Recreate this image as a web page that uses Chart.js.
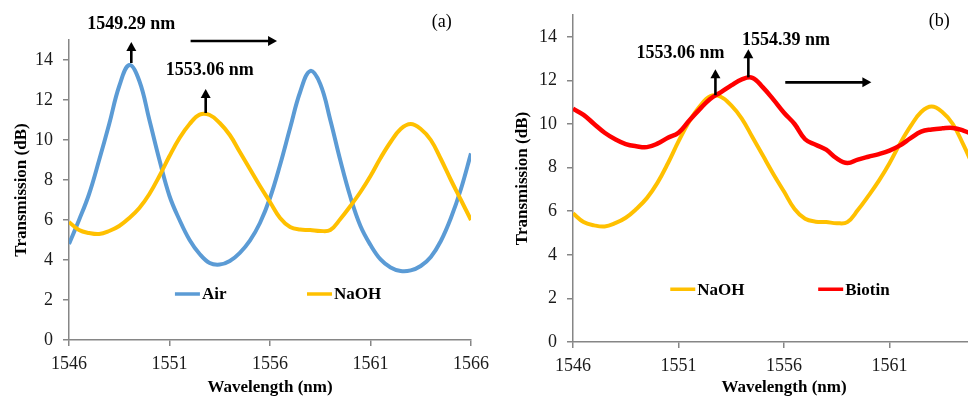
<!DOCTYPE html>
<html>
<head>
<meta charset="utf-8">
<script src="https://cdn.jsdelivr.net/npm/chart.js@4.4.0/dist/chart.umd.min.js"></script>
<style>
html,body{margin:0;padding:0;background:#fff;overflow:hidden}
#wrap{position:relative;width:968px;height:397px;overflow:hidden}
#chartA{position:absolute;left:0;top:0}
#chartB{position:absolute;left:484px;top:0}
</style>
</head>
<body>
<div id="wrap">
<canvas id="chartA" width="500" height="397"></canvas>
<canvas id="chartB" width="530" height="397"></canvas>
</div>
<script>
// wavelength grid, nm
const wavelength = [1546,1546.5,1547,1547.5,1548,1548.5,1549,1549.5,1550,1550.5,
  1551,1551.5,1552,1552.5,1553,1553.5,1554,1554.5,1555,1555.5,
  1556,1556.5,1557,1557.5,1558,1558.5,1559,1559.5,1560,1560.5,
  1561,1561.5,1562,1562.5,1563,1563.5,1564,1564.5,1565,1565.5,1566]

// transmission, dB
const air = [4.8,6.0,7.3,9.0,10.8,12.7,13.75,12.95,11.0,9.0,
  7.2,6.0,5.0,4.3,3.85,3.77,3.95,4.36,4.97,5.85,
  7.1,8.75,10.6,12.4,13.45,12.8,11.0,8.97,7.15,5.7,
  4.75,4.03,3.63,3.45,3.48,3.7,4.15,4.95,6.1,7.55,9.33]

const naoh = [5.9,5.5,5.35,5.3,5.45,5.7,6.1,6.6,7.3,8.2,
  9.2,10.1,10.8,11.27,11.25,10.85,10.25,9.4,8.55,7.7,
  6.9,6.1,5.65,5.52,5.5,5.45,5.5,6.05,6.7,7.4,
  8.2,9.1,9.9,10.55,10.8,10.55,10.0,9.05,8.0,7.0,6.0]

const biotin = [10.7,10.42,10.0,9.6,9.3,9.08,8.98,8.94,9.1,9.37,
  9.6,10.15,10.67,11.15,11.45,11.77,12.05,12.12,11.68,11.12,
  10.52,10.0,9.3,9.05,8.82,8.42,8.21,8.37,8.5,8.62,
  8.78,9.02,9.35,9.65,9.75,9.8,9.82,9.7,9.5]

const xTicks = [1546,1551,1556,1561,1566]
const yTicks = [0,2,4,6,8,10,12,14]

const BLUE = "#5B9BD5"
const GOLD = "#FFC000"
const RED = "#FF0000"
const FONT = '"Liberation Serif", "Times New Roman", serif'

Chart.defaults.font.family = FONT
Chart.defaults.color = "#1a1a1a"

function pts(vals) {
  const out = []
  for (let i = 0; i < vals.length; i++) out.push({x: wavelength[i], y: vals[i]})
  return out
}

function arrow(ctx, x1, y1, x2, y2) {
  const ang = Math.atan2(y2 - y1, x2 - x1)
  const hl = 9, hw = 5
  ctx.lineWidth = 2.6
  ctx.beginPath()
  ctx.moveTo(x1, y1)
  ctx.lineTo(x2 - Math.cos(ang) * (hl - 1), y2 - Math.sin(ang) * (hl - 1))
  ctx.stroke()
  ctx.beginPath()
  ctx.moveTo(x2, y2)
  ctx.lineTo(x2 - hl * Math.cos(ang) + hw * Math.sin(ang), y2 - hl * Math.sin(ang) - hw * Math.cos(ang))
  ctx.lineTo(x2 - hl * Math.cos(ang) - hw * Math.sin(ang), y2 - hl * Math.sin(ang) + hw * Math.cos(ang))
  ctx.closePath()
  ctx.fill()
}

// text labels, arrows and the in-plot legend, placed in data units
const marks = {
  id: "marks",
  afterDraw(chart, args, opts) {
    const ctx = chart.ctx
    const sx = chart.scales.x, sy = chart.scales.y
    ctx.save()
    ctx.fillStyle = "#000"
    ctx.strokeStyle = "#000"
    ctx.textBaseline = "middle"
    ctx.textAlign = "center"
    for (const t of opts.texts) {
      ctx.font = (t.bold ? "bold " : "") + "18px " + FONT
      ctx.fillText(t.text, sx.getPixelForValue(t.x), sy.getPixelForValue(t.y))
    }
    for (const a of opts.arrows) {
      arrow(ctx, sx.getPixelForValue(a[0]), sy.getPixelForValue(a[1]),
        sx.getPixelForValue(a[2]), sy.getPixelForValue(a[3]))
    }
    ctx.textAlign = "left"
    ctx.font = "bold 17px " + FONT
    chart.data.datasets.forEach((ds, i) => {
      const p = opts.legend[i]
      const px = sx.getPixelForValue(p[0]), py = sy.getPixelForValue(p[1])
      ctx.strokeStyle = ds.borderColor
      ctx.lineWidth = 3.5
      ctx.beginPath()
      ctx.moveTo(px, py)
      ctx.lineTo(px + 25, py)
      ctx.stroke()
      ctx.fillStyle = "#000"
      ctx.fillText(ds.label, px + 27, py + 1)
    })
    ctx.restore()
  }
}

function makeChart(id, datasets, lay, marksOpts) {
  return new Chart(document.getElementById(id), {
    type: "line",
    data: {datasets: datasets},
    options: {
      responsive: false,
      animation: false,
      layout: {padding: {left: 0, top: lay.top, right: lay.right, bottom: 0}},
      plugins: {legend: {display: false}, tooltip: {enabled: false}, marks: marksOpts},
      elements: {point: {radius: 0}, line: {tension: 0.4}},
      scales: {
        x: {
          type: "linear", min: 1546, max: 1566,
          afterBuildTicks: s => { s.ticks = xTicks.map(v => ({value: v})) },
          afterFit: s => { s.height = lay.xh; s.paddingLeft = 0; s.paddingRight = 0 },
          grid: {drawOnChartArea: false, drawTicks: true, tickLength: 6, color: "#868686", lineWidth: 1.5},
          border: {color: "#868686", width: 1.5},
          ticks: {font: {size: 18}, padding: 7, maxRotation: 0, autoSkip: false, color: "#1a1a1a", callback: v => String(v)},
          title: {display: true, text: "Wavelength (nm)", font: {size: 17, weight: "bold", lineHeight: 1}, padding: {top: 0, bottom: 1}, color: "#000"}
        },
        y: {
          min: 0, max: 15,
          afterBuildTicks: s => { s.ticks = yTicks.map(v => ({value: v})) },
          afterFit: s => { s.width = lay.yw; s.paddingTop = 0; s.paddingBottom = 0 },
          grid: {drawOnChartArea: false, drawTicks: true, tickLength: 6, color: "#868686", lineWidth: 1.5},
          border: {color: "#868686", width: 1.5},
          ticks: {font: {size: 18}, padding: 10, color: "#1a1a1a", callback: v => String(v)},
          title: {display: true, text: "Transmission (dB)", font: {size: 17, weight: "bold", lineHeight: 1}, padding: {top: lay.tpad, bottom: 0}, color: "#000"}
        }
      }
    },
    plugins: [marks]
  })
}

makeChart("chartA", [
  {label: "Air", data: pts(air), borderColor: BLUE, borderWidth: 4, order: 1},
  {label: "NaOH", data: pts(naoh), borderColor: GOLD, borderWidth: 4, order: 0}
], {top: 40, right: 29, xh: 57, yw: 69, tpad: 13.5}, {
  texts: [
    {text: "1549.29 nm", x: 1549.1, y: 15.8, bold: true},
    {text: "1553.06 nm", x: 1553.0, y: 13.5, bold: true},
    {text: "(a)", x: 1564.55, y: 15.9}
  ],
  arrows: [
    [1549.1, 13.85, 1549.1, 14.9],
    [1552.8, 11.35, 1552.8, 12.55],
    [1552.05, 14.95, 1556.35, 14.95]
  ],
  legend: [[1551.27, 2.3], [1557.84, 2.3]]
})

makeChart("chartB", [
  {label: "NaOH", data: pts(naoh), borderColor: GOLD, borderWidth: 4, order: 1},
  {label: "Biotin", data: pts(biotin), borderColor: RED, borderWidth: 4.5, order: 0}
], {top: 15, right: 19, xh: 55, yw: 89, tpad: 30.5}, {
  texts: [
    {text: "1553.06 nm", x: 1551.09, y: 13.22, bold: true},
    {text: "1554.39 nm", x: 1556.09, y: 13.84, bold: true},
    {text: "(b)", x: 1563.36, y: 14.69}
  ],
  arrows: [
    [1552.75, 11.32, 1552.75, 12.51],
    [1554.31, 12.14, 1554.31, 13.43],
    [1556.06, 11.91, 1560.14, 11.91]
  ],
  legend: [[1550.61, 2.42], [1557.62, 2.42]]
})
</script>
</body>
</html>
